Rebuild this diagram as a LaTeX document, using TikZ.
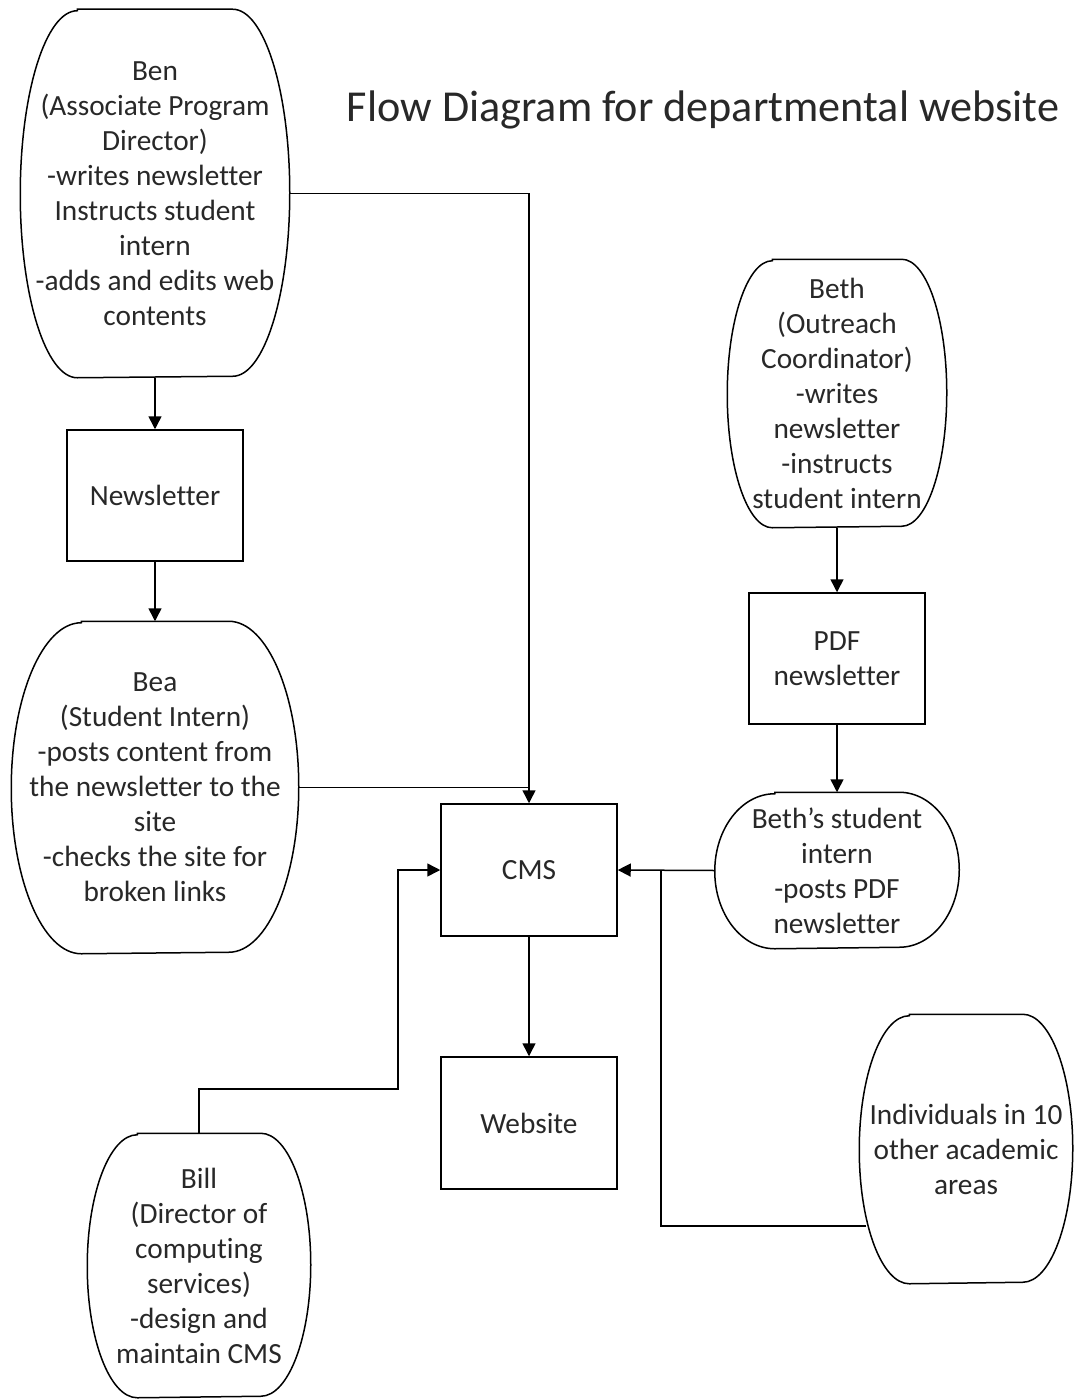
\documentclass[tikz,border=0pt]{standalone}
\usepackage{fontspec}
\setmainfont{Carlito}[Ligatures=NoCommon]
\usetikzlibrary{arrows.meta,calc}
\definecolor{txt}{RGB}{40,40,40}
\newcommand\bodyfont{\fontsize{29.3}{35}\selectfont}
\newcommand\termshape[3]{%
  \draw ([xshift=#2pt]#1.north west) -- ([xshift=-#2pt]#1.north east)
    arc[start angle=90,end angle=-90,x radius=#2pt,y radius=#3pt]
    -- ([xshift=#2pt]#1.south west)
    arc[start angle=270,end angle=90,x radius=#2pt,y radius=#3pt] -- cycle;}
\begin{document}
\begin{tikzpicture}[x=1pt,y=-1pt,line width=1.5pt,
  box/.style={draw,minimum width=176pt,minimum height=131pt,inner sep=0pt,align=center,font=\bodyfont,text=txt},
  term/.style={inner sep=0pt,align=center,font=\bodyfont,text=txt},
  arr/.style={-{Triangle[length=13pt,width=13pt]}}]
\useasboundingbox[fill=white] (0,0) rectangle (1073,1399);

\node[font=\fontsize{44.2}{50}\selectfont,text=txt] (title) at (703,110) {Flow Diagram for departmental website};

% terminators
\node[term,minimum width=268pt,minimum height=367pt] (ben) at (155,193.5)
  {Ben\\(Associate Program\\Director)\\-writes newsletter\\Instructs student\\intern\\-adds and edits web\\contents};
\termshape{ben}{57}{183.5}
\node[term,minimum width=286pt,minimum height=331pt] (bea) at (155,787.5)
  {Bea\\(Student Intern)\\-posts content from\\the newsletter to the\\site\\-checks the site for\\broken links};
\termshape{bea}{70}{165.5}
\node[term,minimum width=218pt,minimum height=267pt] (beth) at (837,393.5)
  {Beth\\(Outreach\\Coordinator)\\-writes\\newsletter\\-instructs\\student intern};
\termshape{beth}{45}{133.5}
\node[term,minimum width=243pt,minimum height=155pt] (bi) at (837,870.5)
  {Beth’s student\\intern\\-posts PDF\\newsletter};
\termshape{bi}{60}{77.5}
\node[term,minimum width=212pt,minimum height=268pt] (ind) at (966,1149)
  {Individuals in 10\\other academic\\areas};
\termshape{ind}{50}{134}
\node[term,minimum width=222pt,minimum height=263pt] (bill) at (199,1265.5)
  {Bill\\(Director of\\computing\\services)\\-design and\\maintain CMS};
\termshape{bill}{50}{131.5}

% boxes
\node[box] (nl) at (155,495.5) {Newsletter};
\node[box,minimum height=132pt] (cms) at (529,870) {CMS};
\node[box,minimum height=132pt] (web) at (529,1123) {Website};
\node[box] (pdf) at (837,658.5) {PDF\\newsletter};

% connectors
\draw[arr] (ben.south) -- (nl.north);
\draw[arr] (nl.south) -- (bea.north);
\draw[arr] (ben.east) -| (cms.north);
\coordinate (j1) at (529,787.5);
\draw (bea.east) -- (j1);
\draw[arr] (cms.south) -- (web.north);
\draw[arr] (beth.south) -- (pdf.north);
\draw[arr] (pdf.south) -- (bi.north);
\draw[arr] (bi.west) -- (cms.east);
\coordinate (indc) at (866,1226);
\coordinate (j2) at (661,870);
\draw (indc) -| (j2);
\coordinate (b1) at (398,1089);
\draw[arr] (bill.north) |- (b1) |- (cms.west);
\end{tikzpicture}
\end{document}
